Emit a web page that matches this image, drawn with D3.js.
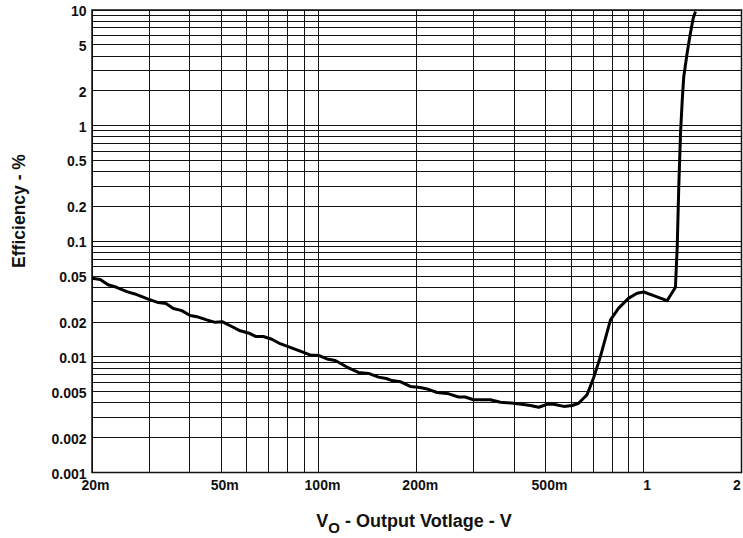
<!DOCTYPE html>
<html lang="en">
<head>
    <meta charset="UTF-8">
    <title>Efficiency vs Output Voltage</title>
    <script src="https://cdn.jsdelivr.net/npm/d3@7"></script>
    <style>
        body {
            margin: 0;
            background: white;
        }
        text {
            font-family: "Liberation Sans", Arial, sans-serif;
            font-weight: bold;
            fill: #111;
        }
    </style>
</head>
<body>
<div id="container"></div>
<script>
    // Curve: output voltage (V) and efficiency (%)
    const vo = [0.020, 0.0212, 0.0224, 0.0238, 0.0256, 0.0271, 0.0298, 0.0320, 0.0338, 0.0356,
        0.0378, 0.0401, 0.0425, 0.0451, 0.0479, 0.0505, 0.0533, 0.0572, 0.0606, 0.0640,
        0.0674, 0.0716, 0.0759, 0.0815, 0.0875, 0.0939, 0.0997, 0.1058, 0.1122, 0.1219,
        0.1323, 0.1421, 0.1525, 0.1611, 0.1677, 0.1779, 0.191, 0.205, 0.215, 0.231,
        0.251, 0.269, 0.282, 0.299, 0.337, 0.362, 0.398, 0.448, 0.475, 0.504,
        0.528, 0.567, 0.602, 0.630, 0.669, 0.701, 0.735, 0.790, 0.837, 0.899,
        0.954, 1.0, 1.073, 1.180, 1.252, 1.268, 1.282, 1.298, 1.314, 1.328,
        1.360, 1.392, 1.420, 1.443];
    const efficiency = [0.048, 0.0467, 0.042, 0.040, 0.0367, 0.035, 0.0316, 0.0295, 0.0289, 0.0262,
        0.0251, 0.0228, 0.0221, 0.0209, 0.0199, 0.0201, 0.0186, 0.0168, 0.0161, 0.0150,
        0.0150, 0.0142, 0.0130, 0.0121, 0.0112, 0.0104, 0.0103, 0.0096, 0.0093, 0.00817,
        0.00733, 0.0072, 0.00668, 0.0065, 0.00624, 0.0061, 0.00555, 0.00543, 0.00528, 0.00492,
        0.00479, 0.0045, 0.0045, 0.00426, 0.00426, 0.00405, 0.00397, 0.0038, 0.00367, 0.00389,
        0.00389, 0.00373, 0.0038, 0.00397, 0.0047, 0.0066, 0.0100, 0.0209, 0.0264, 0.0322,
        0.0355, 0.0364, 0.0339, 0.0306, 0.040, 0.090, 0.297, 0.86, 1.67, 2.65,
        4.22, 6.3, 8.5, 9.7];

    const xTickValues = [0.02, 0.05, 0.1, 0.2, 0.5, 1, 2];
    const xTickLabels = ["20m", "50m", "100m", "200m", "500m", "1", "2"];
    const yTickValues = [10, 5, 2, 1, 0.5, 0.2, 0.1, 0.05, 0.02, 0.01, 0.005, 0.002, 0.001];
    const yTickLabels = ["10", "5", "2", "1", "0.5", "0.2", "0.1", "0.05", "0.02", "0.01", "0.005", "0.002", "0.001"];

    const width = 743, height = 538;
    const plot = {left: 92, right: 741.5, top: 10, bottom: 472.5};

    const svg = d3.select("#container").append("svg")
        .attr("width", width)
        .attr("height", height);

    const x = d3.scaleLog().domain([0.02, 2]).range([plot.left, plot.right]);
    const y = d3.scaleLog().domain([0.001, 10]).range([plot.bottom, plot.top]);

    // grid lines (1..9 per decade)
    const grid = svg.append("g")
        .attr("stroke", "#111")
        .attr("stroke-width", 1)
        .attr("shape-rendering", "crispEdges");

    grid.selectAll("line.v")
        .data(x.ticks())
        .enter().append("line")
        .attr("class", "v")
        .attr("x1", d => x(d)).attr("x2", d => x(d))
        .attr("y1", plot.top).attr("y2", plot.bottom);

    grid.selectAll("line.h")
        .data(y.ticks())
        .enter().append("line")
        .attr("class", "h")
        .attr("x1", plot.left).attr("x2", plot.right)
        .attr("y1", d => y(d)).attr("y2", d => y(d));

    svg.append("rect")
        .attr("x", plot.left).attr("y", plot.top)
        .attr("width", plot.right - plot.left).attr("height", plot.bottom - plot.top)
        .attr("fill", "none")
        .attr("stroke", "#111")
        .attr("stroke-width", 1.5);

    // tick labels
    svg.append("g").selectAll("text")
        .data(xTickValues)
        .enter().append("text")
        .attr("x", d => Math.min(x(d) + 3.5, 737))
        .attr("y", 490)
        .attr("text-anchor", "middle")
        .style("font-size", "14px")
        .text((d, i) => xTickLabels[i]);

    svg.append("g").selectAll("text")
        .data(yTickValues)
        .enter().append("text")
        .attr("x", 86.5)
        .attr("y", d => y(d) + 6)
        .attr("text-anchor", "end")
        .style("font-size", "14px")
        .text((d, i) => yTickLabels[i]);

    // curve
    const points = vo.map((v, i) => [v, efficiency[i]]);
    svg.append("defs").append("clipPath").attr("id", "clip")
        .append("rect")
        .attr("x", plot.left).attr("y", plot.top)
        .attr("width", plot.right - plot.left).attr("height", plot.bottom - plot.top);

    svg.append("path")
        .datum(points)
        .attr("clip-path", "url(#clip)")
        .attr("fill", "none")
        .attr("stroke", "#000")
        .attr("stroke-width", 3)
        .attr("stroke-linejoin", "round")
        .attr("d", d3.line().x(d => x(d[0])).y(d => y(d[1])));

    // axis titles
    const xt = svg.append("text")
        .attr("x", 414)
        .attr("y", 527)
        .attr("text-anchor", "middle")
        .style("font-size", "18px");
    xt.append("tspan").text("V");
    xt.append("tspan").attr("dy", 6).style("font-size", "15px").text("O");
    xt.append("tspan").attr("dy", -6).text(" - Output Votlage - V");

    svg.append("text")
        .attr("transform", "translate(25, 211) rotate(-90)")
        .attr("text-anchor", "middle")
        .style("font-size", "17.5px")
        .text("Efficiency - %");
</script>
</body>
</html>
